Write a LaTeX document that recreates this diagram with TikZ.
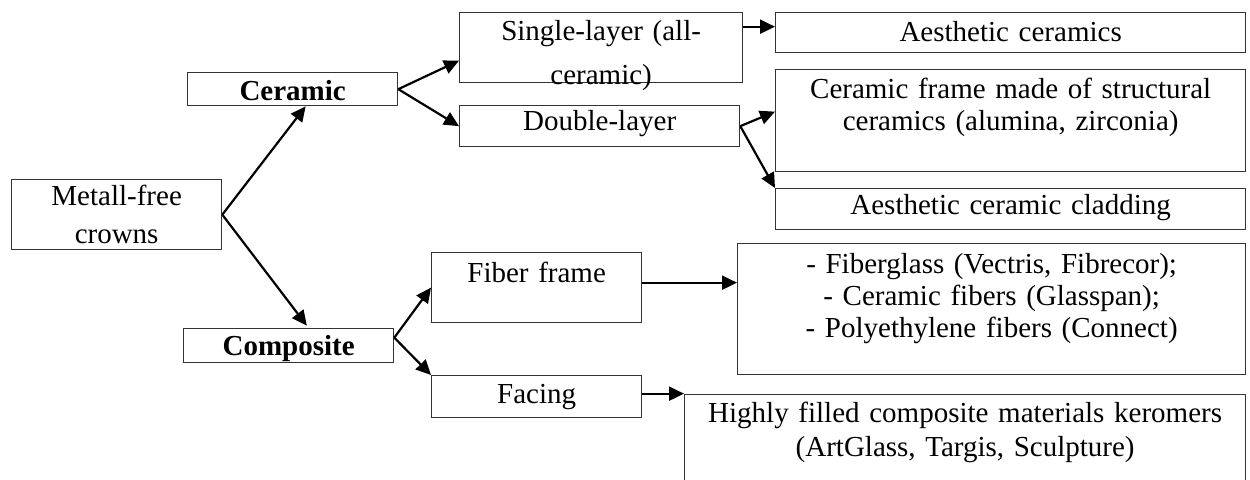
\documentclass[tikz,border=0pt]{standalone}
\usepackage{fontspec}
\setmainfont{Liberation Serif}
\usetikzlibrary{arrows.meta}

\begin{document}
\begin{tikzpicture}[x=1pt,y=-1pt,
  arr/.style={line width=1.1pt, black, -{Triangle[length=7.5pt,width=7pt]}}]
\clip (0,0) rectangle (625,239.5);
\begin{scope}[every node/.style={draw=black!80, line width=0.65pt, anchor=north west, inner sep=0pt, align=center, font=\fontsize{14.5}{16}\selectfont}]
\node[text width=105pt, text height=13pt, text depth=22pt] (crowns) at (5.5,89.5) {Metall-free\\[3pt]crowns};

\node[text width=105pt, text height=14pt, text depth=2.5pt] (ceramic) at (93.5,36) {\textbf{Ceramic}};
\node[text width=105pt, text height=13.5pt, text depth=3.5pt] (composite) at (91.5,164) {\textbf{Composite}};

\node[text width=141.5pt, text height=14pt, text depth=21pt] (single) at (229.5,6) {Single-layer (all-\\[6pt]ceramic)};
\node[text width=140pt, text height=12.5pt, text depth=8pt] (double) at (229.5,52.5) {Double-layer};

\node[text width=235pt, text height=14.5pt, text depth=5.5pt] (aesth) at (387.5,6) {Aesthetic ceramics};
\node[text width=235pt, text height=14.5pt, text depth=36.5pt] (frame) at (387.5,34.5) {Ceramic frame made of structural\\ceramics (alumina, zirconia)};
\node[text width=235pt, text height=13pt, text depth=7.5pt] (cladding) at (387.5,94) {Aesthetic ceramic cladding};

\node[text width=105pt, text height=15pt, text depth=20pt] (fiber) at (215.5,126) {Fiber frame};
\node[text width=105pt, text height=14pt, text depth=7pt] (facing) at (215.5,187.5) {Facing};

\node[text width=254pt, text height=15pt, text depth=50.5pt] (fibers) at (368.5,121.5) {- Fiberglass (Vectris, Fibrecor);\\- Ceramic fibers (Glasspan);\\- Polyethylene fibers (Connect)};
\node[text width=280.5pt, text height=14pt, text depth=46pt] (filled) at (342,197) {Highly filled composite materials keromers\\[0.7pt](ArtGlass, Targis, Sculpture)};
\end{scope}

\draw[arr] (crowns.east) -- ([xshift=6.5pt]ceramic.south);
\draw[arr, shorten >=1.5pt] (crowns.east) -- ([xshift=10pt]composite.north);

\draw[arr] (ceramic.east) -- ([yshift=-6.5pt]single.west);
\draw[arr] (ceramic.east) -- (double.west);
\draw[arr] ([yshift=10.5pt]single.east) -- ([yshift=10.5pt]single.east -| aesth.west);

\draw[arr] (double.east) -- ([yshift=4.5pt]frame.west);
\draw[arr] (double.east) -- (cladding.north west);

\draw[arr] ([yshift=4pt]composite.east) -- (fiber.west);
\draw[arr] ([yshift=4pt]composite.east) -- (facing.north west);
\draw[arr] ([yshift=2.5pt]fiber.east) -- ([yshift=2.5pt]fiber.east -| fibers.west);
\draw[arr] ([yshift=1.5pt]facing.east) -- ([yshift=1.5pt]facing.east -| filled.west);
\end{tikzpicture}
\end{document}
